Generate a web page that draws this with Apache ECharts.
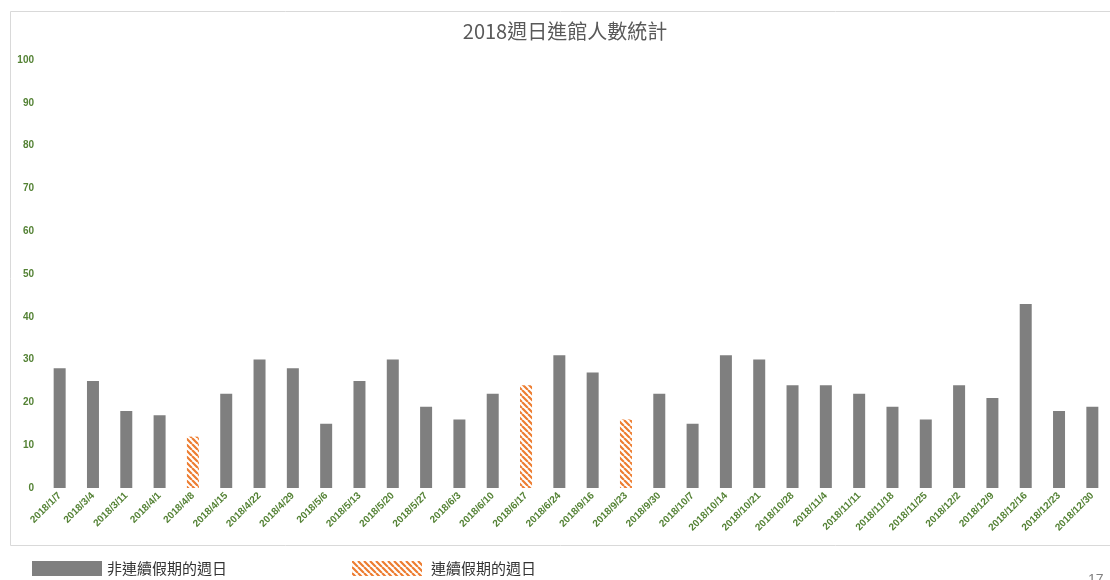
<!DOCTYPE html>
<html>
<head>
<meta charset="utf-8">
<script src="https://cdn.jsdelivr.net/npm/echarts@6/dist/echarts.min.js"></script>
<style>
  html, body { margin: 0; padding: 0; background: #fff; }
  #chart { width: 1110px; height: 580px; }
</style>
</head>
<body>
<div id="chart"></div>
<script>
// 週日日期
const sundays = [
  '2018/1/7', '2018/3/4', '2018/3/11', '2018/4/1', '2018/4/8', '2018/4/15',
  '2018/4/22', '2018/4/29', '2018/5/6', '2018/5/13', '2018/5/20', '2018/5/27',
  '2018/6/3', '2018/6/10', '2018/6/17', '2018/6/24', '2018/9/16', '2018/9/23',
  '2018/9/30', '2018/10/7', '2018/10/14', '2018/10/21', '2018/10/28', '2018/11/4',
  '2018/11/11', '2018/11/18', '2018/11/25', '2018/12/2', '2018/12/9', '2018/12/16',
  '2018/12/23', '2018/12/30'
]
// 非連續假期的週日 ('-' = 無)
const normalVisitors = [
  28, 25, 18, 17, '-', 22,
  30, 28, 15, 25, 30, 19,
  16, 22, '-', 31, 27, '-',
  22, 15, 31, 30, 24, 24,
  22, 19, 16, 24, 21, 43,
  18, 19
]
// 連續假期的週日
const holidayVisitors = [
  '-', '-', '-', '-', 12, '-',
  '-', '-', '-', '-', '-', '-',
  '-', '-', 24, '-', '-', 16,
  '-', '-', '-', '-', '-', '-',
  '-', '-', '-', '-', '-', '-',
  '-', '-'
]
const yTicks = [0, 10, 20, 30, 40, 50, 60, 70, 80, 90, 100]

// 斜線填色
const makeHatch = (size, lw) => {
  const c = document.createElement('canvas')
  c.width = size
  c.height = size
  const ctx = c.getContext('2d')
  ctx.strokeStyle = '#ed7d31'
  ctx.lineWidth = lw
  ctx.beginPath()
  for (let k = -1; k <= 1; k++) {
    ctx.moveTo(k * size, 0)
    ctx.lineTo(k * size + size, size)
  }
  ctx.stroke()
  return c
}
const hatch = makeHatch(6, 2.2)

const chart = echarts.init(document.getElementById('chart'))
const green = '#548235'

chart.setOption({
  animation: false,
  backgroundColor: '#fff',
  title: {
    text: '2018週日進館人數統計',
    left: 565,
    top: 21,
    padding: 0,
    textAlign: 'center',
    textStyle: { color: '#595959', fontSize: 20, fontWeight: 'normal', fontFamily: 'Noto Sans CJK TC' }
  },
  graphic: [
    {
      type: 'rect',
      shape: { x: 10.5, y: 11.5, width: 1100, height: 534 },
      style: { fill: 'none', stroke: '#d9d9d9', lineWidth: 1 },
      z: -1
    },
    {
      type: 'text',
      left: 1088,
      top: 573,
      style: { text: '17', fill: '#7f7f7f', fontSize: 14, fontFamily: 'Liberation Sans' }
    }
  ],
  legend: [
    {
      data: ['非連續假期的週日'],
      icon: 'rect',
      left: 32,
      top: 561,
      padding: 0,
      itemWidth: 70,
      itemHeight: 15,
      textStyle: { color: '#333', fontSize: 15, fontFamily: 'Noto Sans CJK TC' }
    },
    {
      data: ['連續假期的週日'],
      icon: 'rect',
      left: 352,
      top: 561,
      padding: 0,
      itemWidth: 70,
      itemHeight: 15,
      textStyle: { color: '#333', fontSize: 15, fontFamily: 'Noto Sans CJK TC', padding: [0, 0, 0, 4] }
    }
  ],
  grid: { left: 43, right: 1, top: 60, bottom: 92 },
  xAxis: {
    type: 'category',
    data: sundays,
    axisLine: { show: false },
    axisTick: { show: false },
    axisLabel: {
      interval: 0,
      rotate: 45,
      margin: 6,
      color: green,
      fontSize: 10,
      fontWeight: 'bold',
      fontFamily: 'Liberation Sans'
    }
  },
  yAxis: {
    type: 'value',
    min: yTicks[0],
    max: yTicks[yTicks.length - 1],
    interval: 10,
    axisLine: { show: false },
    axisTick: { show: false },
    splitLine: { show: false },
    axisLabel: {
      margin: 9,
      color: green,
      fontSize: 10,
      fontWeight: 'bold',
      fontFamily: 'Liberation Sans'
    }
  },
  series: [
    {
      name: '非連續假期的週日',
      type: 'bar',
      stack: 'all',
      data: normalVisitors,
      barWidth: 12,
      itemStyle: { color: '#7f7f7f' }
    },
    {
      name: '連續假期的週日',
      type: 'bar',
      stack: 'all',
      data: holidayVisitors,
      barWidth: 12,
      itemStyle: { color: { image: hatch, repeat: 'repeat' } }
    }
  ]
})
</script>
</body>
</html>
